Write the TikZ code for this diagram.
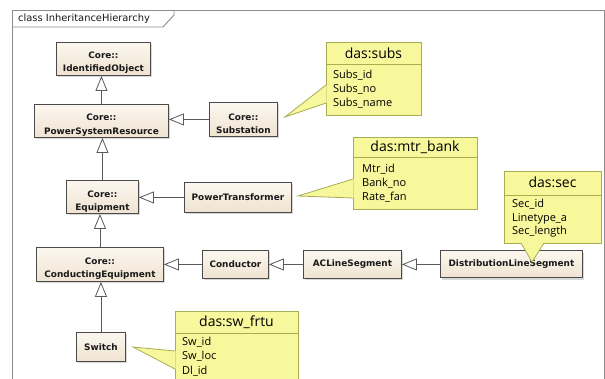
\documentclass[tikz,border=0pt]{standalone}
\usepackage{fontspec}
\setmainfont{DejaVu Sans}
\newfontfamily\notefont{Open Sans}
\usetikzlibrary{arrows.meta,shadows}

\definecolor{clsline}{HTML}{4A4A4A}
\definecolor{clstop}{HTML}{FCF7EF}
\definecolor{clsbot}{HTML}{EFE3D1}
\definecolor{notefill}{HTML}{F7F79C}
\definecolor{noteline}{HTML}{A8AD52}
\definecolor{framecol}{HTML}{8C8C8C}
\definecolor{linkcol}{HTML}{5A5A5A}

\tikzset{
  cls/.style={draw=clsline, line width=0.9pt, top color=clstop, bottom color=clsbot,
    drop shadow={shadow xshift=2pt, shadow yshift=-2pt, fill=black!30},
    inner sep=0pt, anchor=north west},
  clstext/.style={inner sep=0pt, align=center, text=black!90,
    font=\fontsize{8.9}{13.5}\selectfont\bfseries},
  gen/.style={draw=linkcol, line width=0.8pt,
    -{Triangle[length=15pt,width=12pt,fill=white]}},
  notebox/.style={draw=noteline, fill=notefill, line width=0.8pt, anchor=north west, inner sep=0pt},
  notesep/.style={draw=noteline, line width=0.8pt},
  notehead/.style={inner sep=0pt, font=\notefont\fontsize{14}{16}\selectfont},
  notebody/.style={inner sep=0pt, anchor=west, text height=8pt, text depth=2.5pt,
    font=\notefont\fontsize{11}{14}\selectfont},
  callout/.style={fill=notefill},
  calloutedge/.style={draw=noteline, line width=0.8pt},
}

\begin{document}
\begin{tikzpicture}[x=1pt, y=-1pt]
\useasboundingbox (0,0) rectangle (605,379);
\fill[white] (0,0) rectangle (605,379);
\clip (0,0) rectangle (605,379);

% diagram frame with its name tab
\draw[framecol, line width=0.9pt] (12,400) -- (12,10) -- (604,10) -- (604,400);
\draw[framecol, line width=0.9pt] (12,27) -- (163,27) -- (174,15) -- (174,10);
\node[inner sep=0pt, anchor=west, font=\fontsize{9.9}{11}\selectfont, text=black!90]
  (title) at (18,18.5) {class InheritanceHierarchy};

% classes
\node[cls, minimum width=94pt, minimum height=33pt] (io) at (56,42) {};
\node[clstext] (io-t) at ([yshift=-3.5pt]io.center) {Core::\\IdentifiedObject};

\node[cls, minimum width=134pt, minimum height=33pt] (psr) at (34,104) {};
\node[clstext] (psr-t) at ([yshift=-4pt]psr.center) {Core::\\PowerSystemResource};

\node[cls, minimum width=68pt, minimum height=34pt] (sub) at (209,102) {};
\node[clstext] (sub-t) at ([yshift=-4.5pt]sub.center) {Core::\\Substation};

\node[cls, minimum width=72pt, minimum height=33pt] (eq) at (66,180) {};
\node[clstext] (eq-t) at ([yshift=-4.5pt]eq.center) {Core::\\Equipment};

\node[cls, minimum width=107pt, minimum height=30pt] (pt) at (184,182) {};
\node[clstext] (pt-t) at (pt.center) {PowerTransformer};

\node[cls, minimum width=127pt, minimum height=34pt] (ce) at (36,247) {};
\node[clstext] (ce-t) at ([yshift=-4pt]ce.center) {Core::\\ConductingEquipment};

\node[cls, minimum width=66pt, minimum height=28pt] (cond) at (202,250) {};
\node[clstext] (cond-t) at (cond.center) {Conductor};

\node[cls, minimum width=98pt, minimum height=28pt] (acl) at (303,250) {};
\node[clstext] (acl-t) at (acl.center) {ACLineSegment};

\node[cls, minimum width=142pt, minimum height=27pt] (dls) at (440,250.5) {};
\node[clstext] (dls-t) at (dls.center) {DistributionLineSegment};

\node[cls, minimum width=49pt, minimum height=29pt] (sw) at (76,332) {};
\node[clstext] (sw-t) at (sw.center) {Switch};

% generalizations
\draw[gen] (psr.north) -- (psr.north |- io.south);
\draw[gen] (sub.west) -- (sub.west -| psr.east);
\draw[gen] (eq.north) -- (eq.north |- psr.south);
\draw[gen] (pt.west) -- (pt.west -| eq.east);
\draw[gen] (ce.north) -- (ce.north |- eq.south);
\draw[gen] (cond.west) -- (cond.west -| ce.east);
\draw[gen] (acl.west) -- (acl.west -| cond.east);
\draw[gen] (dls.west) -- (dls.west -| acl.east);
\draw[gen] (sw.north) -- (sw.north |- ce.south);

% note: das:subs
\node[notebox, minimum width=95pt, minimum height=73pt] (subs) at (326,42) {};
\draw[notesep] (326,64) -- (421,64);
\node[notehead] (subs-h) at (373.5,53) {das:subs};
\node[notebody] (subs-1) at (333,76) {Subs\_id};
\node[notebody] (subs-2) at (333,90) {Subs\_no};
\node[notebody] (subs-3) at (333,104) {Subs\_name};
\coordinate (subs-tip) at (285,117);
\fill[callout] (subs-tip) -- (326.5,85) -- (326.5,103) -- cycle;
\draw[calloutedge] (326,85) -- (subs-tip) -- (326,103);

% note: das:mtr_bank
\node[notebox, minimum width=124pt, minimum height=72pt] (mtr) at (353,137) {};
\draw[notesep] (353,157) -- (477,157);
\node[notehead] (mtr-h) at (415,147.5) {das:mtr\_bank};
\node[notebody] (mtr-1) at (362,170) {Mtr\_id};
\node[notebody] (mtr-2) at (362,184) {Bank\_no};
\node[notebody] (mtr-3) at (362,198) {Rate\_fan};
\coordinate (mtr-tip) at (298,196);
\fill[callout] (mtr-tip) -- (353.5,179) -- (353.5,198) -- cycle;
\draw[calloutedge] (353,179) -- (mtr-tip) -- (353,198);

% note: das:sec
\node[notebox, minimum width=97pt, minimum height=72pt] (sec) at (504,171) {};
\draw[notesep] (504,195) -- (601,195);
\node[notehead] (sec-h) at (552.5,182.5) {das:sec};
\node[notebody] (sec-1) at (512,205) {Sec\_id};
\node[notebody] (sec-2) at (512,218.5) {Linetype\_a};
\node[notebody] (sec-3) at (512,232) {Sec\_length};
\coordinate (sec-tip) at (532,262);
\fill[callout] (sec-tip) -- (521,242.5) -- (544,242.5) -- cycle;
\draw[calloutedge] (521,243) -- (sec-tip) -- (544,243);

% note: das:sw_frtu
\node[notebox, minimum width=123pt, minimum height=90pt] (swf) at (175,311) {};
\draw[notesep] (175,333) -- (298,333);
\node[notehead] (swf-h) at (236.5,322) {das:sw\_frtu};
\node[notebody] (swf-1) at (182,343) {Sw\_id};
\node[notebody] (swf-2) at (182,357) {Sw\_loc};
\node[notebody] (swf-3) at (182,371.5) {Dl\_id};
\coordinate (swf-tip) at (133,347);
\fill[callout] (swf-tip) -- (175.5,351) -- (175.5,369) -- cycle;
\draw[calloutedge] (175,351) -- (swf-tip) -- (175,369);
\end{tikzpicture}
\end{document}
